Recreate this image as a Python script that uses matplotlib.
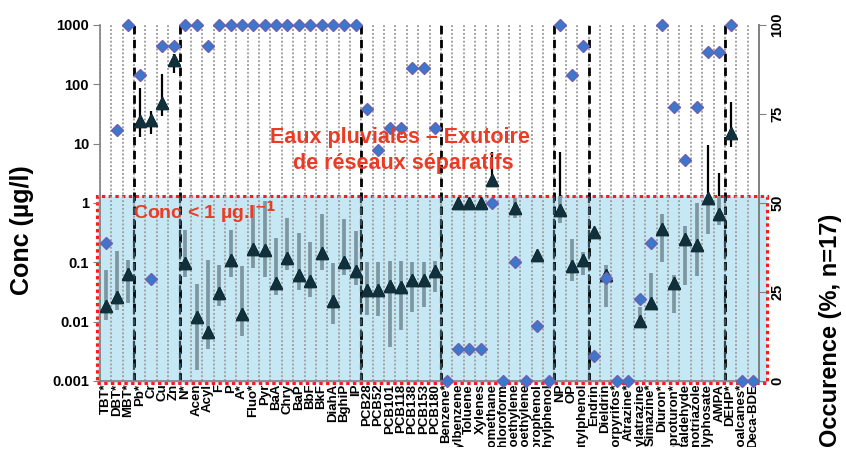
import numpy as np
import matplotlib
matplotlib.use("Agg")
import matplotlib.pyplot as plt
from matplotlib.patches import Rectangle
from matplotlib.transforms import Bbox, TransformedBbox
from matplotlib import font_manager

plt.rcParams['font.family'] = ['Liberation Sans', 'DejaVu Sans']
plt.rcParams['font.weight'] = 'bold'
plt.rcParams['mathtext.default'] = 'bf'

# substances (x axis)
labels = ["TBT*", "DBT*", "MBT*", "Pb*", "Cr", "Cu", "Zn", "N*", "Acen", "Acyl",
          "F", "P", "A*", "Fluo*", "Pyr", "BaA", "Chry", "BaP", "BbF", "BkF",
          "DiahA", "BghiP", "IP", "PCB28", "PCB52", "PCB101", "PCB118", "PCB138",
          "PCB153", "PCB180", "Benzene*", "Ethylbenzene", "Toluene", "Xylenes",
          "Dichloromethane", "Chloroform", "Tetrachloroethylene", "Trichloroethylene",
          "Pentachlorophenol", "4-chloro-3-methylphenol", "NP", "OP", "4-tert-butylphenol",
          "Endrin", "Dieldrin", "Chlorpyrifos*", "Atrazine*", "Desethylatrazine",
          "Simazine*", "Diuron*", "Isoproturon*", "Metaldehyde", "Aminotriazole",
          "Glyphosate", "AMPA", "DEHP*", "Chloroalcanes*", "Deca-BDE"]

# occurrence (%), right axis
occurrence = [38.7, 70.6, 100, 86, 28.7, 94, 94, 100, 100, 94,
              100, 100, 100, 100, 100, 100, 100, 100, 100, 100,
              100, 100, 100, 76.5, 65, 71, 71, 88, 88, 71,
              0, 9, 9, 9, 50, 0, 33.5, 0, 15.4, 0,
              100, 86, 94, 7, 29, 0, 0, 23, 38.7, 100,
              77, 62, 77, 92.5, 92.5, 100, 0, 0]

nan = np.nan
# concentration (µg/l), left axis
conc = [0.0186, 0.0258, 0.0628, 24.4, 25, 49, 257, 0.0964, 0.0121, 0.00678,
        0.030, 0.109, 0.01345, 0.166, 0.161, 0.0443, 0.117, 0.0612, 0.049, 0.145,
        0.0223, 0.1026, 0.0714, 0.0342, 0.0342, 0.0399, 0.0388, 0.0504, 0.0504, 0.0714,
        nan, 1.0, 1.0, 1.0, 2.44, nan, 0.815, nan, 0.133, nan,
        0.76, 0.0867, 0.109, 0.321, 0.0612, nan, nan, 0.01026, 0.0204, 0.361,
        0.0443, 0.244, 0.196, 1.2, 0.65, 15.3, nan, nan]
conc_min = [0.0107, 0.0157, 0.0204, 13.1, 14.4, 29.3, 157, 0.0573, 0.00153, 0.00342,
            0.0184, 0.0573, 0.0058, 0.0812, 0.0573, 0.0282, 0.0743, 0.0342, 0.0258, 0.0743,
            0.00904, 0.0612, 0.0415, 0.0129, 0.0125, 0.0037, 0.00724, 0.0147, 0.0175, 0.032,
            nan, 1.0, 1.0, 1.0, 2.2, nan, 0.552, nan, 0.133, nan,
            0.455, 0.049, 0.0612, 0.321, 0.0179, nan, nan, 0.01026, 0.0204, 0.1026,
            0.0142, 0.0415, 0.0589, 0.297, 0.425, 8.9, nan, nan]
conc_max = [0.0743, 0.155, 0.109, 85.7, 35.6, 149, 327, 0.351, 0.0427, 0.109,
            0.090, 0.351, 0.0867, 0.925, 1.1, 0.254, 0.552, 0.316, 0.223, 0.653,
            0.0964, 0.531, 0.337, 0.1026, 0.1026, 0.105, 0.105, 0.1026, 0.1026, 0.1067,
            nan, 1.0, 1.0, 1.0, 7.3, nan, 1.2, nan, 0.133, nan,
            7.2, 0.244, 0.151, 0.321, 0.090, nan, nan, 0.0179, 0.0668, 0.653,
            0.0612, 0.409, 1.01, 9.5, 3.17, 51, nan, nan]

# family separators (between categories)
separators = [2.5, 6.5, 22.5, 29.5, 39.5, 42.5, 54.5]

x = np.arange(len(labels))
W, H = 846, 474

installed = {f.name for f in font_manager.fontManager.ttflist}
narrow = 'Liberation Sans Narrow' if 'Liberation Sans Narrow' in installed else 'Liberation Sans'

fig = plt.figure(figsize=(W / 100, H / 100), dpi=100)
ax = fig.add_axes([100 / W, 1 - 381 / H, 659 / W, 356 / H])
ax.set_yscale('log')
ax.set_ylim(1e-3, 1e3)
ax.set_xlim(-0.5, len(labels) - 0.5)

# blue "< 1 µg/l" zone with red dotted border
box = Rectangle((-0.0046, -0.0056), 1.0167, 0.5253, transform=ax.transAxes,
                facecolor='#c6e8f5', edgecolor='#ff1a1a', linewidth=2.2,
                linestyle=(0, (1.1, 1.1)), clip_on=False, zorder=0)
ax.add_patch(box)

# dotted grid between categories
ax.vlines(np.arange(len(labels) + 1) - 0.5, 1e-3, 1e3, colors='#a3a3a3',
          linestyles=(0, (1, 1)), linewidth=1.4, zorder=1)
# dashed separators between families
ax.vlines(separators, 1e-3, 1e3, colors='black', linestyles=(0, (3, 2)),
          linewidth=2, zorder=2)
ax.vlines(separators, 1e-3, 1e3, colors='#2f4a55', linestyles=(0, (3, 2)),
          linewidth=1.6, zorder=2.1, clip_path=box)

# min-max ranges
ax.vlines(x, conc_min, conc_max, colors='black', linewidth=1.6, zorder=3)
ax.vlines(x, conc_min, conc_max, colors='#7d97a2', linewidth=2.6, zorder=3.1,
          clip_path=box)
ax.plot(x, conc, linestyle='none', marker='^', markersize=8.5, color='black', zorder=4)
ax.plot(x, conc, linestyle='none', marker='^', markersize=8.5, color='#10303c',
        zorder=4.1, clip_path=box)

ax.set_yticks([1e-3, 1e-2, 1e-1, 1, 10, 100, 1000])
ax.set_yticklabels(['0.001', '0.01', '0.1', '1', '10', '100', '1000'])
ax.minorticks_off()
ax.set_xticks(x)
ax.set_xticklabels(labels, rotation=90, fontsize=9.5, fontweight='bold',
                   family=[narrow, 'DejaVu Sans'])
ax.tick_params(axis='x', length=0, pad=2)
ax.tick_params(axis='y', length=5, color='#808080', labelsize=10.5, pad=3)
ax.spines['top'].set_visible(False)
for s in ['left', 'right', 'bottom']:
    ax.spines[s].set_color('#808080')
    ax.spines[s].set_linewidth(1.2)

# clip long labels like the original
clip = TransformedBbox(Bbox([[0, 1 - 447 / H], [1, 1]]), fig.transFigure)
for t in ax.get_xticklabels():
    t.set_clip_box(clip)
    t.set_clip_on(True)

# occurrence on right axis
ax2 = ax.twinx()
ax2.set_ylim(0, 100)
ax2.set_xlim(-0.5, len(labels) - 0.5)
ax2.plot(x, occurrence, linestyle='none', marker='D', markersize=6.3,
         markerfacecolor='#3a78cc', markeredgecolor='#6f5fb0', markeredgewidth=1.0,
         clip_on=False, zorder=5)
ax2.set_yticks([0, 25, 50, 75, 100])
ax2.set_yticklabels(['0', '25', '50', '75', '100'], rotation=90, va='center')
ax2.tick_params(axis='y', length=5, color='#808080', labelsize=10.5, pad=3)
for s in ['top', 'left', 'bottom']:
    ax2.spines[s].set_visible(False)
ax2.spines['right'].set_color('#808080')
ax2.spines['right'].set_linewidth(1.2)

# annotations
red = '#ec3b24'
fig.text(400 / W, 1 - 137 / H, 'Eaux pluviales – Exutoire', color=red,
         fontsize=15.5, fontweight='bold', ha='center', va='center')
fig.text(403 / W, 1 - 163 / H, 'de réseaux séparatifs', color=red,
         fontsize=15.5, fontweight='bold', ha='center', va='center')
fig.text(133 / W, 1 - 212 / H, r'Conc < 1 µg.l$^{-1}$', color=red,
         fontsize=14, fontweight='bold', ha='left', va='center')

fig.text(22 / W, 1 - 230 / H, 'Conc (µg/l)', rotation=90, fontsize=18,
         fontweight='bold', ha='center', va='center')
fig.text(830 / W, 1 - 330 / H, 'Occurence (%, n=17)', rotation=90, fontsize=17,
         fontweight='bold', ha='center', va='center')

fig.savefig('out.png', dpi=100)
